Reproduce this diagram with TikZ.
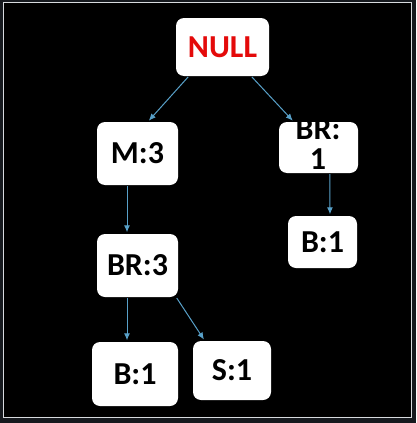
\documentclass[tikz,border=0pt]{standalone}
\usepackage{fontspec}
\setsansfont{Carlito}
\usetikzlibrary{arrows.meta}
\definecolor{linkblue}{RGB}{88,160,200}
\definecolor{nullred}{RGB}{228,10,10}
\definecolor{outergrey}{RGB}{22,25,30}
\definecolor{framegrey}{RGB}{215,218,222}
\begin{document}
\begin{tikzpicture}[x=1pt,y=-1pt,>={Latex[length=7pt,width=6pt]},
every node/.style={font=\sffamily\bfseries\fontsize{32}{32}\selectfont},
box/.style={fill=white,rounded corners=8pt,inner sep=0pt},
link/.style={->,draw=linkblue,line width=1pt,shorten >=1.5pt,shorten <=1pt}]

% background and frame
\fill[outergrey] (0,0) rectangle (416,423);
\draw[framegrey,line width=1.5pt,fill=black] (3.5,2.5) rectangle (411.5,417.5);

% tree boxes
\node[box,minimum width=93pt,minimum height=58pt,text=nullred](null) at (222.5,47) {NULL};
\node[box,minimum width=81pt,minimum height=63pt](m3) at (137.5,153.5) {M:3};
\node[box,minimum width=79pt,minimum height=51pt](br1) at (318.5,147.5) {};
\node[align=center,inner sep=0pt,font=\sffamily\bfseries\fontsize{32}{30}\selectfont](br1txt) at (318,144.5) {BR:\\1};
\node[box,minimum width=69pt,minimum height=52pt](b1r) at (322.5,242) {B:1};
\node[box,minimum width=81pt,minimum height=63pt](br3) at (137.5,265.5) {BR:3};
\node[box,minimum width=86pt,minimum height=64pt](b1l) at (135,374) {B:1};
\node[box,minimum width=78pt,minimum height=59pt](s1) at (232,370.5) {S:1};

% links
\draw[link] ([xshift=13pt]null.south west) -- ([xshift=51pt]m3.north west);
\draw[link] ([xshift=-18pt]null.south east) -- ([xshift=15pt]br1.north west);
\draw[link] ([xshift=-10.5pt]m3.south) -- ([xshift=-10.5pt]br3.north);
\draw[link] ([xshift=51pt]br1.south west) -- ([xshift=7.5pt]b1r.north);
\draw[link] ([xshift=-10.5pt]br3.south) -- ([xshift=-8pt]b1l.north);
\draw[link] ([xshift=-2pt]br3.south east) -- ([xshift=12pt]s1.north west);

\end{tikzpicture}
\end{document}
